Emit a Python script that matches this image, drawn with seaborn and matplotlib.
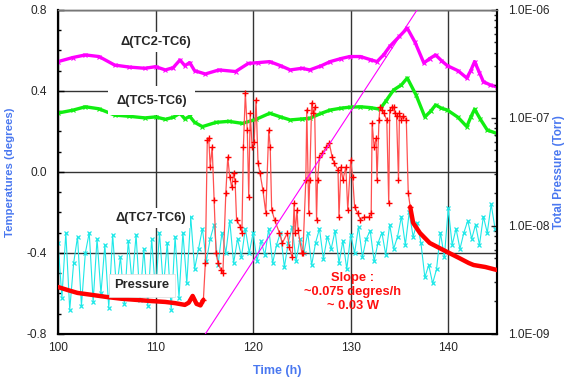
import numpy as np
import pandas as pd
import matplotlib
matplotlib.use("Agg")
import matplotlib.pyplot as plt
import matplotlib.ticker as mticker
import seaborn as sns

# --- values ---
# Delta(TC2-TC6), degrees
tc2_time = [100, 101.5, 102.8, 104.2, 105.8, 107.3, 108.9, 110, 111, 111.8, 112.5, 113, 113.5, 114,
            115.1, 116.5, 118.2, 119.5, 120.5, 121.7, 122.8, 123.8, 125, 125.8, 127, 127.9, 129, 129.9,
            131, 132, 132.7, 133.4, 134, 135, 135.8, 136.6, 137.5, 138.1, 138.7, 139.3, 139.9, 141,
            141.9, 142.3, 142.7, 143.2, 143.6, 144.3, 145]
tc2_temp = [0.545, 0.565, 0.578, 0.570, 0.528, 0.518, 0.512, 0.520, 0.504, 0.515, 0.553, 0.525, 0.540, 0.500,
            0.484, 0.504, 0.496, 0.536, 0.540, 0.545, 0.525, 0.504, 0.512, 0.504, 0.525, 0.545, 0.560, 0.570,
            0.570, 0.555, 0.545, 0.580, 0.620, 0.670, 0.710, 0.640, 0.538, 0.560, 0.578, 0.550, 0.525, 0.500,
            0.464, 0.500, 0.545, 0.490, 0.446, 0.430, 0.420]

# Delta(TC5-TC6), degrees
tc5_time = [100, 101.5, 102.8, 104.2, 105.8, 107.3, 108.9, 110, 111, 111.8, 112.5, 113, 113.5, 114,
            114.8, 116.2, 117.5, 118.9, 120.3, 121.7, 122.8, 123.8, 125, 125.8, 127, 127.9, 129, 129.9,
            131, 132, 133, 133.6, 134.4, 135.2, 135.8, 136.7, 137.6, 138.2, 138.7, 139.3, 139.9, 141,
            141.9, 142.3, 142.7, 143.3, 144, 145]
tc5_temp = [0.291, 0.305, 0.322, 0.312, 0.281, 0.275, 0.267, 0.272, 0.260, 0.270, 0.290, 0.262, 0.275, 0.245,
            0.224, 0.245, 0.250, 0.240, 0.260, 0.290, 0.272, 0.257, 0.262, 0.265, 0.290, 0.306, 0.315, 0.320,
            0.322, 0.318, 0.310, 0.350, 0.405, 0.430, 0.464, 0.380, 0.272, 0.300, 0.331, 0.315, 0.306, 0.270,
            0.224, 0.270, 0.310, 0.260, 0.207, 0.190]

# Delta(TC7-TC6), degrees, sampled every 0.4 h from 100 h
tc7_start, tc7_step = 100.0, 0.4
tc7_temp = [-0.35, -0.62, -0.30, -0.68, -0.45, -0.32, -0.66, -0.40, -0.30, -0.64,
            -0.33, -0.60, -0.36, -0.67, -0.31, -0.58, -0.42, -0.65, -0.34, -0.55,
            -0.31, -0.63, -0.38, -0.66, -0.33, -0.60, -0.30, -0.57, -0.35, -0.68,
            -0.32, -0.62, -0.30, -0.55, -0.22, -0.48, -0.38, -0.28, -0.44, -0.33,
            -0.26, -0.46, -0.30, -0.40, -0.24, -0.45, -0.33, -0.42, -0.28, -0.40,
            -0.30, -0.44, -0.34, -0.41, -0.28, -0.45, -0.36, -0.30, -0.47, -0.35,
            -0.27, -0.44, -0.33, -0.40, -0.30, -0.46, -0.35, -0.28, -0.43, -0.32,
            -0.38, -0.29, -0.45, -0.34, -0.48, -0.31, -0.40, -0.27, -0.42, -0.33,
            -0.29, -0.44, -0.35, -0.30, -0.41, -0.26, -0.38, -0.32, -0.22, -0.36,
            -0.20, -0.32, -0.25, -0.35, -0.52, -0.46, -0.55, -0.48, -0.30, -0.42,
            -0.18, -0.36, -0.28, -0.38, -0.30, -0.24, -0.33, -0.26, -0.36, -0.22,
            -0.30, -0.16, -0.28]

# Total pressure, Torr
pressure_time = [100.0, 101.0, 102.0, 103.5, 105.0, 106.5, 108.0, 109.5, 111.0, 112.0, 113.0, 113.4,
                 113.8, 114.2, 114.6, 114.9,
                 115.1, 115.3, 115.45, 115.6, 115.8, 116.0, 116.2, 116.4, 116.7, 116.9, 117.2, 117.4,
                 117.6, 117.8, 118.0, 118.15, 118.3, 118.7, 118.85, 119.0, 119.2, 119.4, 119.55, 119.7,
                 119.9, 120.1, 120.3, 120.5, 120.7, 121.0, 121.3, 121.6, 121.75, 121.9, 122.2, 122.7,
                 123.0, 123.5, 123.7, 124.0, 124.2, 124.3, 124.5, 124.6, 125.0, 125.1, 125.4, 125.5,
                 125.7, 125.8, 126.0, 126.1, 126.3, 126.5, 126.6, 126.8, 127.1, 127.5, 127.8, 128.1,
                 128.3, 128.7, 128.8, 129.0, 129.2, 129.5, 129.7, 130.0, 130.2, 130.4, 130.7, 131.0,
                 131.4, 131.9, 132.1, 132.2, 132.4, 132.6, 132.7, 132.9, 133.0, 133.2, 133.4, 133.7,
                 133.9, 134.0, 134.2, 134.4, 134.5, 134.7, 134.9, 135.0, 135.2, 135.4, 135.7, 135.9,
                 136.1, 136.4, 137.1, 138.1, 139.1, 140.1, 141.1, 142.1, 142.6, 143.8, 145.0]
pressure_torr = [2.72e-9, 2.55e-9, 2.40e-9, 2.30e-9, 2.20e-9, 2.12e-9, 2.07e-9, 2.02e-9, 1.98e-9, 1.93e-9,
                 1.86e-9, 1.95e-9, 2.25e-9, 1.90e-9, 1.84e-9, 2.07e-9,
                 4.54e-9, 6.26e-8, 6.53e-8, 3.52e-8, 5.39e-8, 1.74e-8, 5.62e-9, 4.54e-9, 3.91e-9, 3.67e-9,
                 2.02e-8, 4.35e-8, 2.84e-8, 2.30e-8, 3.10e-8, 2.60e-8, 1.14e-8, 9.8e-9, 8.61e-9, 5.39e-8,
                 1.70e-7, 7.74e-8, 1.86e-8, 1.11e-7, 5.39e-8, 6.0e-8, 1.47e-7, 3.83e-8, 3.10e-8, 2.15e-8,
                 1.32e-8, 7.74e-8, 5.39e-8, 1.41e-8, 1.14e-8, 8.61e-9, 6.96e-9, 8.61e-9, 6.39e-9, 5.16e-9,
                 1.63e-8, 8.61e-9, 1.41e-8, 9.18e-9, 5.62e-9, 5.62e-9, 2.67e-8, 1.19e-7, 1.32e-8, 2.67e-8,
                 1.38e-7, 1.11e-7, 1.26e-7, 1.14e-8, 2.67e-8, 4.35e-8, 4.74e-8, 5.39e-8, 5.87e-8, 4.35e-8,
                 3.83e-8, 3.30e-8, 1.21e-8, 3.52e-8, 2.67e-8, 3.52e-8, 1.41e-8, 4.08e-8, 2.84e-8, 1.50e-8,
                 1.32e-8, 1.14e-8, 1.21e-8, 1.21e-8, 1.32e-8, 8.99e-8, 5.39e-8, 6.5e-8, 2.67e-8, 9.58e-8,
                 1.26e-7, 1.19e-7, 1.11e-7, 9.58e-8, 1.63e-8, 1.19e-7, 1.26e-7, 1.26e-7, 1.11e-7, 1.05e-7,
                 2.67e-8, 1.11e-7, 9.6e-8, 1.05e-7, 9.58e-8, 2.02e-8,
                 1.50e-8, 1.07e-8, 8.61e-9, 6.96e-9, 6.25e-9, 5.62e-9, 5.06e-9, 4.54e-9, 4.35e-9, 4.17e-9,
                 3.91e-9]

# fitted slope line (~0.075 degrees/h)
slope_time = [115.1, 136.8]
slope_temp = [-0.8, 0.8]

x_ticks = [100, 110, 120, 130, 140]
y_ticks = [-0.8, -0.4, 0.0, 0.4, 0.8]
p_ticks = [1e-9, 1e-8, 1e-7, 1e-6]
p_tick_labels = ["1.0E-09", "1.0E-08", "1.0E-07", "1.0E-06"]

# --- build frames ---
tc2 = pd.DataFrame({"Time": tc2_time, "Temp": tc2_temp})
tc5 = pd.DataFrame({"Time": tc5_time, "Temp": tc5_temp})
tc7 = pd.DataFrame({"Time": tc7_start + tc7_step * np.arange(len(tc7_temp)), "Temp": tc7_temp})
pres = pd.DataFrame({"Time": pressure_time, "P": pressure_torr})
pres_base = pres[pres["Time"] <= 114.9]
pres_tail = pres[pres["Time"] >= 136.1]
pres_burst = pres[(pres["Time"] >= 114.9) & (pres["Time"] <= 136.1)]

sns.set_style("white")
plt.rcParams["font.family"] = ["Liberation Sans", "DejaVu Sans"]

BLUE = "#4A78F0"
fig = plt.figure(figsize=(5.65, 3.85), dpi=100)
ax = fig.add_axes([0.1027, 0.1325, 0.777, 0.8416])
ax2 = ax.twinx()

# temperature curves
sns.lineplot(data=tc7, x="Time", y="Temp", ax=ax, color="#1EE8E8", lw=0.8, marker="x",
             markersize=3.5, markeredgewidth=0.9, markeredgecolor="#1EE8E8", sort=False,
             estimator=None, zorder=3)
sns.lineplot(data=tc2, x="Time", y="Temp", ax=ax, color="#FF00FF", lw=2.4, marker="x",
             markersize=2.5, markeredgewidth=0.8, markeredgecolor="#FF00FF", sort=False,
             estimator=None, zorder=4)
sns.lineplot(data=tc5, x="Time", y="Temp", ax=ax, color="#11EE11", lw=2.4, marker="x",
             markersize=2.5, markeredgewidth=0.8, markeredgecolor="#11EE11", sort=False,
             estimator=None, zorder=4)

# pressure on log scale
sns.lineplot(data=pres_burst, x="Time", y="P", ax=ax2, color="#FF5050", lw=0.9, marker="+",
             markersize=4, markeredgewidth=1.0, markeredgecolor="#FF0000", sort=False,
             estimator=None, zorder=3)
for seg in (pres_base, pres_tail):
    sns.lineplot(data=seg, x="Time", y="P", ax=ax2, color="#FF0000", lw=3.2, sort=False,
                 estimator=None, zorder=3)

# slope line drawn on top in temperature coordinates
ax2.plot(slope_time, slope_temp, color="#FF00FF", lw=0.8, transform=ax.transData, zorder=5)

# axes limits and ticks
ax.set_xlim(100, 145)
ax.set_ylim(-0.8, 0.8)
ax2.set_yscale("log")
ax2.set_ylim(1e-9, 1e-6)

ax.set_xticks(x_ticks)
ax.set_xticklabels([str(t) for t in x_ticks])
ax.xaxis.set_minor_locator(mticker.MultipleLocator(2))
ax.set_yticks(y_ticks)
ax.set_yticklabels([f"{v:.1f}" for v in y_ticks])
ax.yaxis.set_minor_locator(mticker.MultipleLocator(0.1))
ax2.set_yticks(p_ticks)
ax2.set_yticklabels(p_tick_labels)
ax2.yaxis.set_minor_locator(mticker.LogLocator(base=10, subs=np.arange(2, 10)))
ax2.yaxis.set_minor_formatter(mticker.NullFormatter())

ax.tick_params(axis="both", which="major", direction="in", length=4, width=1, labelsize=8.6,
               color="black")
ax.tick_params(axis="y", which="major", pad=8)
ax.tick_params(axis="x", which="major", pad=6)
ax.tick_params(axis="both", which="minor", direction="in", length=2.5, width=1, color="black")
ax.tick_params(axis="x", which="both", top=False)
ax2.tick_params(axis="y", which="major", direction="in", length=4, width=1, labelsize=8.6, pad=8)
ax2.tick_params(axis="y", which="minor", direction="in", length=2.5, width=1)
ax2.tick_params(axis="x", which="both", top=False, bottom=False, labelbottom=False)

ax.grid(True, which="major", axis="both", color="#333333", lw=1.0)
ax.set_axisbelow(True)

for a in (ax, ax2):
    for side in ("left", "bottom", "right"):
        a.spines[side].set_color("black")
        a.spines[side].set_linewidth(1.5)
    a.spines["top"].set_color("#777777")
    a.spines["top"].set_linewidth(1.0)

ax.set_xlabel("Time (h)", color=BLUE, fontsize=9, fontweight="bold")
ax.set_ylabel("Temperatures (degrees)", color=BLUE, fontsize=8.2, fontweight="bold")
ax2.set_ylabel("Total Pressure (Torr)", color=BLUE, fontsize=8.4, fontweight="bold")
ax.xaxis.set_label_coords(0.5, -0.095)
ax.yaxis.set_label_coords(-0.098, 0.5)
ax2.yaxis.set_label_coords(1.127, 0.5)

# annotations
box = dict(facecolor="white", edgecolor="none", pad=3)
ax2.text(110, 0.642, "\u0394(TC2-TC6)", transform=ax.transData, ha="center", va="center",
         fontsize=9.3, fontweight="bold", bbox=box, zorder=6)
ax2.text(109.6, 0.352, "\u0394(TC5-TC6)", transform=ax.transData, ha="center", va="center",
         fontsize=9.3, fontweight="bold", bbox=dict(facecolor="white", edgecolor="none", pad=6),
         zorder=6)
ax2.text(109.5, -0.227, "\u0394(TC7-TC6)", transform=ax.transData, ha="center", va="center",
         fontsize=9.3, fontweight="bold", bbox=box, zorder=6)
ax2.text(108.6, -0.56, "Pressure", transform=ax.transData, ha="center", va="center",
         fontsize=9.3, fontweight="bold",
         bbox=dict(facecolor="white", edgecolor="#dddddd", lw=0.5, pad=4), zorder=6)
ax2.text(130.2, -0.593, "Slope :\n~0.075 degres/h\n~ 0.03 W", transform=ax.transData,
         ha="center", va="center", fontsize=9.3, fontweight="bold", color="#FF1010",
         linespacing=1.25, zorder=6)

fig.savefig("out.png", dpi=100)
